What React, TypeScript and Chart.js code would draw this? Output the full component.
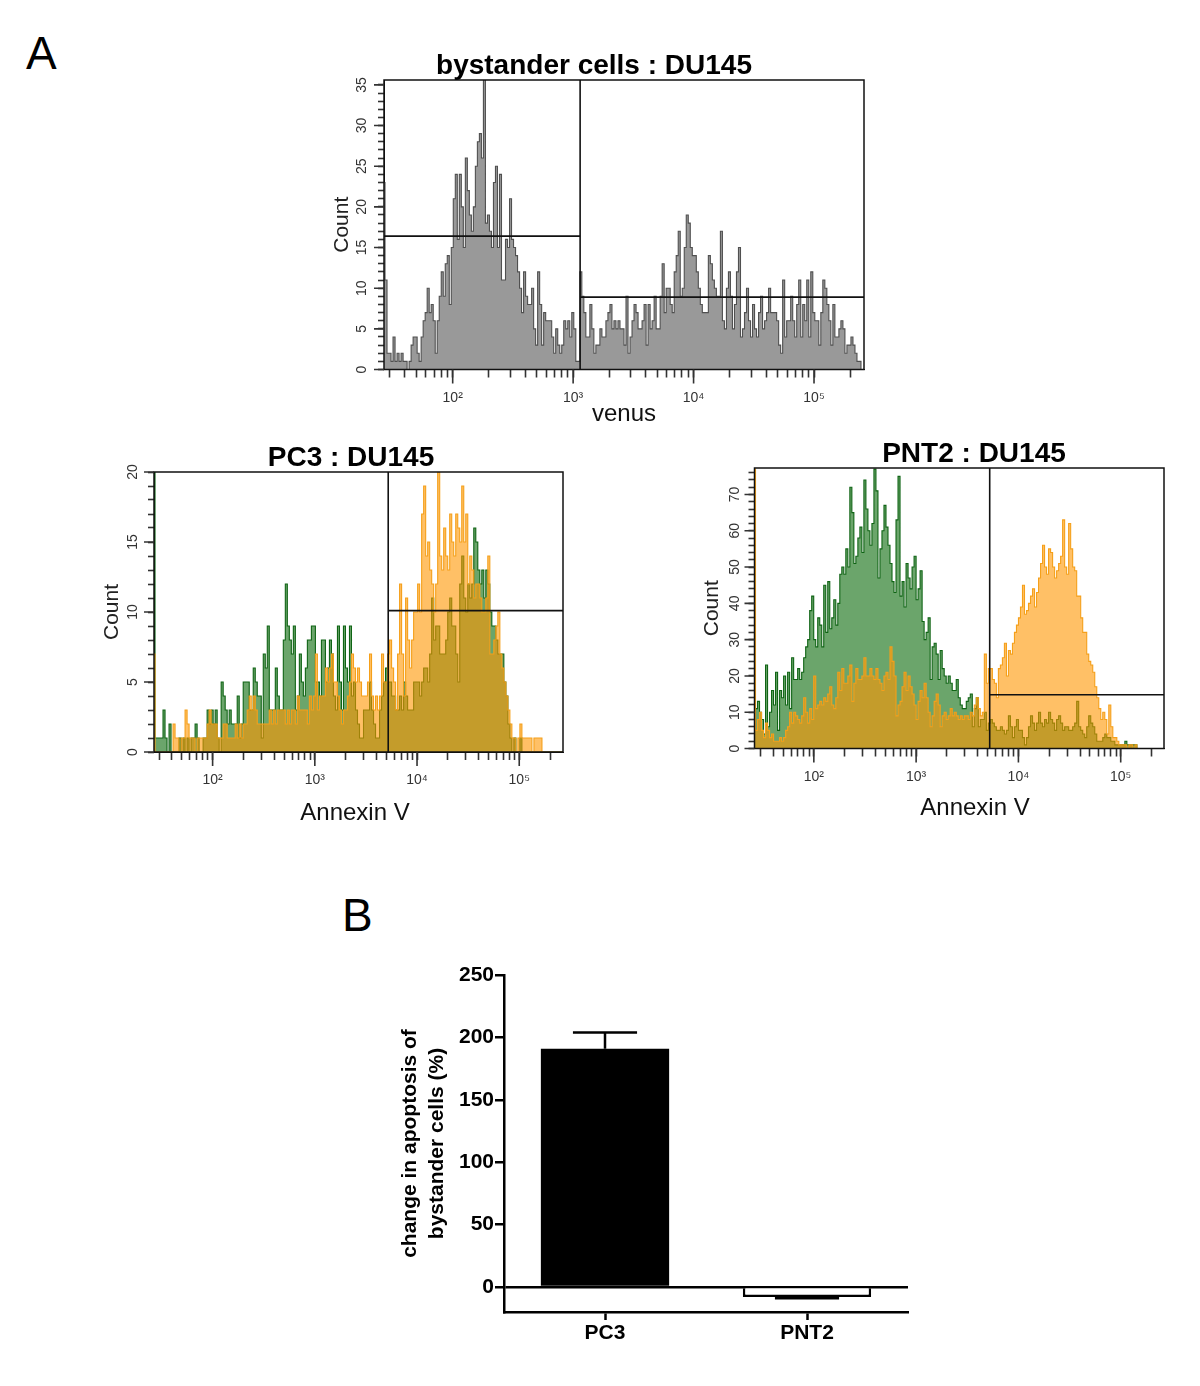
import React, { useEffect, useRef } from "react";
import { Chart, registerables } from "chart.js";

Chart.register(...registerables);

const FONT = '"Liberation Sans", Arial, sans-serif';
const TITLE_BOX = 28;

// Histogram counts, read bin by bin from the picture.
const venusCounts = [
  23,11,2,2,1,4,1,2,1,2, 1,1,0,1,3,4,4,2,1,4, 6,7,10,7,8,6,2,6,9,12,
  9,13,14,8,15,21,24,16,24,20, 15,26,22,19,17,20,25,28,29,26, 36,18,19,17,15,23,25,15,24,11,
  11,16,15,21,16,15,14,12,10,7, 12,9,8,8,10,5,3,12,8,3, 7,6,6,6,4,2,5,3,2,3,
  6,5,6,4,7,5,1,1,12,9, 7,4,4,8,5,2,3,3,5,4, 4,6,7,8,5,6,5,6,5,5,
  3,9,2,4,6,8,7,5,5,6, 8,3,8,5,6,9,5,5,9,13, 7,10,10,8,7,12,14,17,9,10,
  15,19,18,15,14,14,12,10,8,7, 7,7,14,13,11,10,9,9,17,6, 5,10,12,9,5,8,12,15,4,5,
  7,10,6,4,8,5,4,7,9,5, 6,7,10,7,7,7,6,3,2,11, 4,6,6,9,6,4,8,11,4,8,
  6,11,4,12,7,6,6,3,7,11, 10,8,6,3,8,4,4,5,6,5, 2,3,3,4,3,2,1,1,0,0,
];
const pc3Green = [
  20,1,1,1,1,3,1,0,2,0, 0,0,0,1,0,1,0,1,0,1, 1,2,1,0,0,1,1,3,2,3,
  2,3,1,0,5,4,3,2,3,2, 2,2,4,1,2,5,5,5,3,3, 6,5,4,4,1,7,6,9,3,3,
  3,6,4,3,3,8,12,9,8,7, 9,3,4,7,5,4,6,8,8,9, 9,5,5,4,8,8,5,6,8,7,
  4,3,9,5,3,9,6,5,9,4, 5,3,2,1,1,3,3,3,5,3, 2,1,1,3,4,5,6,
  5,5,4,4,3,3,4,3,5,4, 3,3,3,5,5,5,4,5,6,6, 5,7,11,8,9,9,7,7,7,8,
  10,11,9,9,7,5,12,14,11,10, 12,11,12,16,15,13,12,13,11,13, 12,10,9,9,8,7,7,7,5,4,
  2,1,0,1,0,0,1,0,0,0, 0,0,0,0,0,0,0,0,0,0, 0,0,0,0,0,0,0,0,
];
const pc3Orange = [
  7,0,0,0,0,0,0,0,0,0, 2,1,1,0,1,1,3,2,1,1, 1,0,1,1,1,1,1,2,3,2,
  2,2,1,1,1,2,2,1,1,1, 1,2,1,2,1,2,2,3,4,3, 4,3,2,2,2,2,2,2,3,2,
  3,2,3,3,3,3,2,3,2,3, 3,2,4,3,3,3,3,2,4,3, 4,7,3,4,4,4,6,5,6,7,
  5,5,4,3,2,3,3,4,5,7, 6,5,6,5,4,4,4,5,7,4, 3,4,3,4,7,5,5,
  7,8,6,5,3,7,12,7,4,11, 8,6,8,10,10,12,10,17,19,14, 15,13,12,10,12,20,14,13,16,14,
  13,17,15,14,17,16,15,19,15,17, 12,14,13,11,12,12,11,10,10,11, 14,7,7,8,9,10,7,6,5,4,
  3,2,1,1,0,1,2,1,1,1, 1,1,0,1,1,1,1,0,0,0, 0,0,0,0,0,0,0,0,
];
const pnt2Green = [
  10,11,13,10,8,4,23,6,10,16, 12,21,5,16,14,20,12,21,11,25, 19,19,22,19,21,25,28,30,38,42,
  30,28,36,34,28,45,32,46,33,36, 41,34,40,48,50,48,55,50,72,65, 51,53,58,61,54,74,66,60,56,62,
  77,71,47,55,60,67,61,56,51,46, 43,63,75,42,46,39,51,47,44,50, 53,41,44,49,35,30,32,36,19,28,
  29,26,19,27,22,20,18,20,18,16, 16,19,14,12,11,11,13,14,15,6, 11,14,6,8,8,10,5,7,
  8,7,6,5,5,6,5,4,5,9, 6,3,6,8,5,5,3,1,3,6, 9,7,5,7,10,7,6,8,7,10,
  8,7,5,8,9,7,5,6,6,5, 5,6,7,13,6,5,4,3,6,9, 7,6,4,2,2,2,3,4,3,3,
  2,2,1,1,1,1,1,2,1,1, 1,1,1,0,0,0,0,0,0,0, 0,0,0,0,0,0,0,
];
const pnt2Orange = [
  77,5,8,10,5,3,7,5,3,4, 2,2,2,3,2,3,5,6,10,7, 10,9,8,7,9,14,10,7,11,8,
  20,11,12,13,12,14,13,15,17,12, 11,14,21,16,22,18,18,20,23,13, 18,22,19,19,20,25,20,20,22,20,
  19,22,19,18,16,20,21,19,28,24, 20,9,12,13,17,21,16,20,17,15, 12,8,13,16,14,18,14,10,6,9,
  13,15,12,6,9,10,8,9,11,9, 10,9,8,9,8,9,9,8,10,9, 12,14,11,9,10,26,18,22,
  22,19,18,14,22,23,25,29,20,27, 26,29,32,34,36,39,45,37,38,40, 42,44,39,43,47,51,56,50,48,55,
  54,50,47,49,51,53,63,50,48,62, 55,50,49,42,42,36,32,32,26,24, 23,21,17,14,11,8,10,8,4,12,
  6,3,3,2,1,1,1,1,0,1, 1,0,1,0,0,0,0,0,0,0, 0,0,0,0,0,0,0,
];

// Tick labels and gates.
const decadeLabels: Record<number, string> = { 100: "10²", 1000: "10³", 10000: "10⁴", 100000: "10⁵" };
const venusCountLabels = [0, 5, 10, 15, 20, 25, 30, 35];
const pc3CountLabels = [0, 5, 10, 15, 20];
const pnt2CountLabels = [0, 10, 20, 30, 40, 50, 60, 70];
const venusGate = { x: 1143, leftY: 16.4, rightY: 8.9 };
const pc3Gate = { x: 5225, y: 10.1 };
const pnt2Gate = { x: 5240, y: 14.8 };

// Bar panel.
const barCategories = ["PC3", "PNT2"];
const barValues = [191, -8];
const barErrorEnds = [204, -9];
const barTickLabels = [0, 50, 100, 150, 200, 250];

const GREEN = { line: "#0f6414", fill: "rgba(0,100,0,0.58)" };
const ORANGE = { line: "#f5a01a", fill: "rgba(255,150,0,0.6)" };
const GREY = { line: "#505050", fill: "#999999" };

function bins(counts: number[], min: number, max: number) {
  const a = Math.log10(min);
  const b = Math.log10(max);
  return counts.map((y, i) => ({ x: Math.pow(10, a + (i / (counts.length - 1)) * (b - a)), y }));
}

function histo(counts: number[], c: { line: string; fill: string }, min: number, max: number, order: number) {
  return {
    data: bins(counts, min, max),
    borderColor: c.line,
    backgroundColor: c.fill,
    borderWidth: 1.1,
    stepped: "middle",
    fill: "origin",
    pointRadius: 0,
    order,
  };
}

function gate(points: { x: number; y: number }[]) {
  return { data: points, borderColor: "#111", borderWidth: 1.6, pointRadius: 0, fill: false, order: 0 };
}

type Panel = {
  title: string;
  xTitle: string;
  frame: { l: number; t: number; r: number; b: number };
  canvas: { l: number; r: number; b: number };
  xMin: number;
  xMax: number;
  yMax: number;
  yStep: number;
  yLabels: number[];
  yLabelOffset: number;
  countX: number;
  xTitleX: number;
  xTitleY: number;
  datasets: (min: number, max: number, yMax: number) => any[];
};

const panels: Panel[] = [
  {
    title: "bystander cells : DU145",
    xTitle: "venus",
    frame: { l: 384, t: 80, r: 864, b: 369.5 },
    canvas: { l: 320, r: 868, b: 430 },
    xMin: 26.9,
    xMax: 260000,
    yMax: 35.6,
    yStep: 1,
    yLabels: venusCountLabels,
    yLabelOffset: 22,
    countX: 342,
    xTitleX: 624,
    xTitleY: 414,
    datasets: (min, max, yMax) => [
      gate([{ x: venusGate.x, y: 0 }, { x: venusGate.x, y: yMax }]),
      gate([{ x: min, y: venusGate.leftY }, { x: venusGate.x, y: venusGate.leftY }]),
      gate([{ x: venusGate.x, y: venusGate.rightY }, { x: max, y: venusGate.rightY }]),
      histo(venusCounts, GREY, min, max, 2),
    ],
  },
  {
    title: "PC3 : DU145",
    xTitle: "Annexin V",
    frame: { l: 154, t: 471.5, r: 563, b: 752 },
    canvas: { l: 90, r: 612, b: 830 },
    xMin: 26.7,
    xMax: 268000,
    yMax: 20,
    yStep: 1,
    yLabels: pc3CountLabels,
    yLabelOffset: 21,
    countX: 112,
    xTitleX: 355,
    xTitleY: 813,
    datasets: (min, max, yMax) => [
      gate([{ x: pc3Gate.x, y: 0 }, { x: pc3Gate.x, y: yMax }]),
      gate([{ x: pc3Gate.x, y: pc3Gate.y }, { x: max, y: pc3Gate.y }]),
      histo(pc3Orange, ORANGE, min, max, 1),
      histo(pc3Green, GREEN, min, max, 2),
    ],
  },
  {
    title: "PNT2 : DU145",
    xTitle: "Annexin V",
    frame: { l: 754.5, t: 468, r: 1164, b: 748.5 },
    canvas: { l: 700, r: 1248, b: 825 },
    xMin: 26.3,
    xMax: 265000,
    yMax: 77.3,
    yStep: 2,
    yLabels: pnt2CountLabels,
    yLabelOffset: 19,
    countX: 712,
    xTitleX: 975,
    xTitleY: 808,
    datasets: (min, max, yMax) => [
      gate([{ x: pnt2Gate.x, y: 0 }, { x: pnt2Gate.x, y: yMax }]),
      gate([{ x: pnt2Gate.x, y: pnt2Gate.y }, { x: max, y: pnt2Gate.y }]),
      histo(pnt2Orange, ORANGE, min, max, 1),
      histo(pnt2Green, GREEN, min, max, 2),
    ],
  },
];

function logTicks(min: number, max: number) {
  const out: { value: number; major: boolean }[] = [];
  for (let e = 1; e <= 5; e++) {
    for (let m = 1; m <= 9; m++) {
      const value = m * Math.pow(10, e);
      if (value >= min && value <= max) out.push({ value, major: m === 1 });
    }
  }
  return out;
}

function linearTicks(max: number, step: number, labels: number[]) {
  const out: { value: number; major: boolean }[] = [];
  for (let v = 0; v <= max; v += step) out.push({ value: v, major: labels.includes(v) });
  return out;
}

function flowPlugin(p: Panel) {
  return {
    id: "flowFrame",
    afterDraw(chart: any) {
      const { ctx, chartArea: a, scales } = chart;
      ctx.save();
      ctx.strokeStyle = "#111";
      ctx.lineWidth = 1.5;
      ctx.strokeRect(a.left, a.top, a.right - a.left, a.bottom - a.top);
      // longer major ticks
      ctx.strokeStyle = "#333";
      ctx.lineWidth = 1.6;
      ctx.beginPath();
      scales.x.ticks.forEach((t: any) => {
        if (!t.major) return;
        const px = scales.x.getPixelForValue(t.value);
        ctx.moveTo(px, a.bottom);
        ctx.lineTo(px, a.bottom + 14);
      });
      scales.y.ticks.forEach((t: any) => {
        if (!t.major) return;
        const py = scales.y.getPixelForValue(t.value);
        ctx.moveTo(a.left, py);
        ctx.lineTo(a.left - 10, py);
      });
      ctx.stroke();
      // rotated count labels
      ctx.fillStyle = "#333";
      ctx.font = `14px ${FONT}`;
      ctx.textAlign = "center";
      ctx.textBaseline = "middle";
      p.yLabels.forEach((v) => {
        const py = scales.y.getPixelForValue(v);
        ctx.save();
        ctx.translate(a.left - p.yLabelOffset, py);
        ctx.rotate(-Math.PI / 2);
        ctx.fillText(String(v), 0, 0);
        ctx.restore();
      });
      // axis caption
      ctx.fillStyle = "#111";
      ctx.font = `24px ${FONT}`;
      ctx.fillText(p.xTitle, p.xTitleX - p.canvas.l, p.xTitleY - (p.frame.t - TITLE_BOX));
      ctx.restore();
    },
  };
}

function FlowPanel({ panel: p }: { panel: Panel }) {
  const ref = useRef<HTMLCanvasElement>(null);
  useEffect(() => {
    const yAxisWidth = p.frame.l - p.canvas.l;
    const chart = new Chart(ref.current as HTMLCanvasElement, {
      type: "line",
      data: { datasets: p.datasets(p.xMin, p.xMax, p.yMax) },
      plugins: [flowPlugin(p)],
      options: {
        animation: false,
        responsive: false,
        layout: { padding: 0 },
        plugins: {
          legend: { display: false },
          tooltip: { enabled: false },
          title: {
            display: true,
            text: p.title,
            color: "#000",
            font: { family: FONT, size: 28, weight: "bold", lineHeight: TITLE_BOX / 28 },
            padding: 0,
          },
        },
        scales: {
          x: {
            type: "logarithmic",
            min: p.xMin,
            max: p.xMax,
            afterBuildTicks: (s: any) => {
              s.ticks = logTicks(p.xMin, p.xMax);
            },
            afterFit: (s: any) => {
              s.height = p.canvas.b - p.frame.b;
              s.paddingRight = p.canvas.r - p.frame.r;
            },
            grid: { drawOnChartArea: false, tickLength: 8, tickColor: "#333", tickWidth: 1.6 },
            border: { color: "#111" },
            ticks: {
              autoSkip: false,
              maxRotation: 0,
              minRotation: 0,
              padding: 12,
              color: "#333",
              font: { family: FONT, size: 14 },
              callback: (v: any) => decadeLabels[Number(v)] ?? "",
            },
          },
          y: {
            type: "linear",
            min: 0,
            max: p.yMax,
            afterBuildTicks: (s: any) => {
              s.ticks = linearTicks(p.yMax, p.yStep, p.yLabels);
            },
            afterFit: (s: any) => {
              s.width = yAxisWidth;
            },
            grid: { drawOnChartArea: false, tickLength: 6, tickColor: "#333", tickWidth: 1.6 },
            border: { color: "#111" },
            ticks: { display: false, autoSkip: false },
            title: {
              display: true,
              text: "Count",
              color: "#222",
              font: { family: FONT, size: 21, lineHeight: 1.2 },
              padding: { top: Math.max(0, p.countX - p.canvas.l - 12.6), bottom: 0 },
            },
          },
        },
      } as any,
    } as any);
    return () => chart.destroy();
  }, [p]);
  const top = p.frame.t - TITLE_BOX;
  return (
    <canvas
      ref={ref}
      width={p.canvas.r - p.canvas.l}
      height={p.canvas.b - top}
      style={{ position: "absolute", left: p.canvas.l, top, display: "block" }}
    />
  );
}

const errorBars = {
  id: "errorBars",
  afterDatasetsDraw(chart: any) {
    const { ctx, scales } = chart;
    const meta = chart.getDatasetMeta(0);
    ctx.save();
    ctx.strokeStyle = "#000";
    ctx.lineWidth = 2.5;
    ctx.beginPath();
    barErrorEnds.forEach((end, i) => {
      const el = meta.data[i];
      const half = el.width / 4;
      const yVal = scales.y.getPixelForValue(barValues[i]);
      const yEnd = scales.y.getPixelForValue(end);
      ctx.moveTo(el.x, yVal);
      ctx.lineTo(el.x, yEnd);
      ctx.moveTo(el.x - half, yEnd);
      ctx.lineTo(el.x + half, yEnd);
    });
    ctx.stroke();
    ctx.restore();
  },
};

function BarPanel() {
  const ref = useRef<HTMLCanvasElement>(null);
  useEffect(() => {
    const chart = new Chart(ref.current as HTMLCanvasElement, {
      type: "bar",
      data: {
        labels: barCategories,
        datasets: [
          {
            data: barValues,
            backgroundColor: ["#000000", "#ffffff"],
            borderColor: "#000000",
            borderWidth: [0, 2.5],
            barPercentage: 0.635,
            categoryPercentage: 1,
          },
        ],
      },
      plugins: [errorBars],
      options: {
        animation: false,
        responsive: false,
        layout: { padding: { top: 15, right: 12, left: 0, bottom: 0 } },
        plugins: { legend: { display: false }, tooltip: { enabled: false } },
        scales: {
          x: {
            afterFit: (s: any) => {
              s.height = 38;
            },
            grid: { offset: false, drawOnChartArea: false, tickLength: 8, tickWidth: 2.5, tickColor: "#000" },
            border: { color: "#000", width: 2.5 },
            ticks: { color: "#000", padding: 1, font: { family: FONT, size: 21, weight: "bold" } },
          },
          y: {
            min: -20,
            max: 250,
            afterBuildTicks: (s: any) => {
              s.ticks = barTickLabels.map((value) => ({ value }));
            },
            afterFit: (s: any) => {
              s.width = 114;
            },
            grid: {
              color: (c: any) => (c.tick && c.tick.value === 0 ? "#000" : "rgba(0,0,0,0)"),
              lineWidth: 2.5,
              tickLength: 9,
              tickWidth: 2.5,
              tickColor: "#000",
            },
            border: { color: "#000", width: 2.5 },
            ticks: { color: "#000", padding: 1, autoSkip: false, font: { family: FONT, size: 21, weight: "bold" } },
            title: {
              display: true,
              text: ["change in apoptosis of", "bystander cells (%)"],
              color: "#000",
              font: { family: FONT, size: 21, weight: "bold", lineHeight: 1.27 },
              padding: { top: 7, bottom: 0 },
            },
          },
        },
      } as any,
    } as any);
    return () => chart.destroy();
  }, []);
  return (
    <canvas
      ref={ref}
      width={530}
      height={390}
      style={{ position: "absolute", left: 390, top: 960, display: "block" }}
    />
  );
}

const letter: React.CSSProperties = {
  position: "absolute",
  font: `46px/1 ${FONT}`,
  color: "#000",
};

export default function App() {
  return (
    <div style={{ position: "absolute", left: 0, top: 0, width: 1200, height: 1386, overflow: "hidden", background: "#fff" }}>
      <div style={{ ...letter, left: 26, top: 30 }}>A</div>
      <div style={{ ...letter, left: 342, top: 892 }}>B</div>
      {panels.map((p) => (
        <FlowPanel key={p.title} panel={p} />
      ))}
      <BarPanel />
    </div>
  );
}
